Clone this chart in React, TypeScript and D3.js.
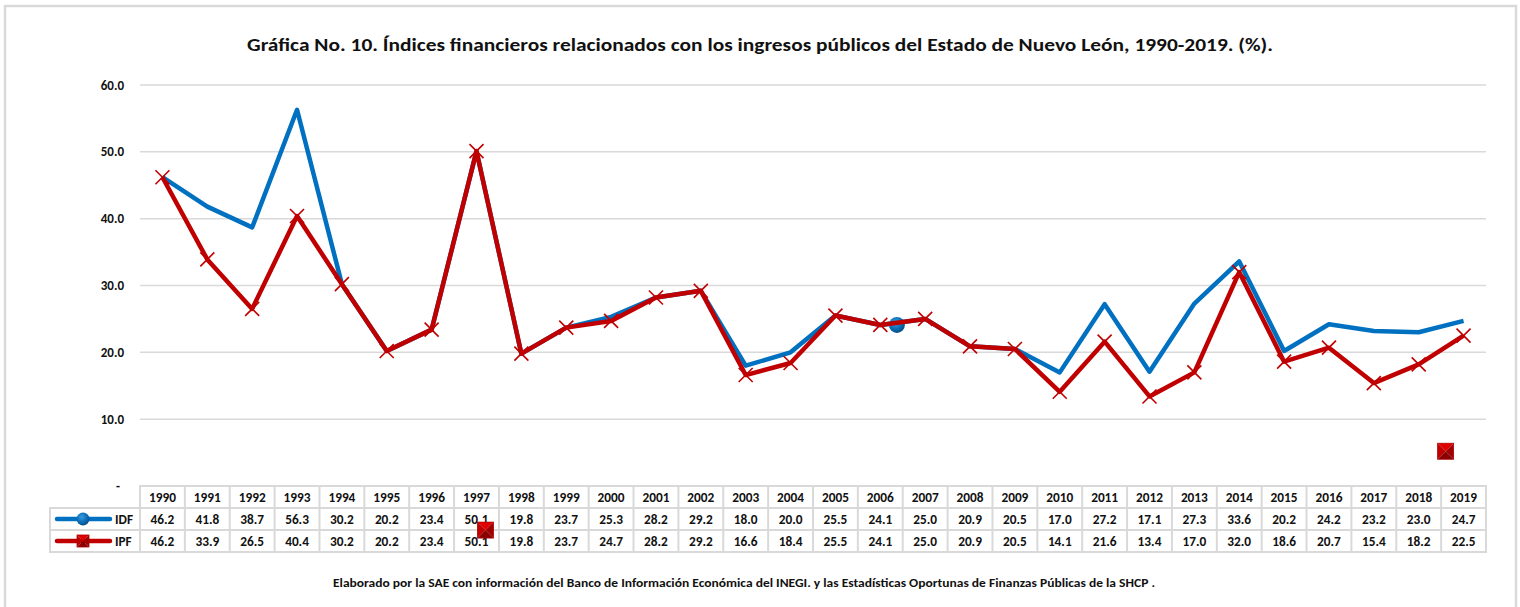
import React from "react";
import * as d3 from "d3";

const years = [1990,1991,1992,1993,1994,1995,1996,1997,1998,1999,2000,2001,2002,2003,2004,2005,2006,2007,2008,2009,2010,2011,2012,2013,2014,2015,2016,2017,2018,2019];
const idf = [46.2,41.8,38.7,56.3,30.2,20.2,23.4,50.1,19.8,23.7,25.3,28.2,29.2,18.0,20.0,25.5,24.1,25.0,20.9,20.5,17.0,27.2,17.1,27.3,33.6,20.2,24.2,23.2,23.0,24.7];
const ipf = [46.2,33.9,26.5,40.4,30.2,20.2,23.4,50.1,19.8,23.7,24.7,28.2,29.2,16.6,18.4,25.5,24.1,25.0,20.9,20.5,14.1,21.6,13.4,17.0,32.0,18.6,20.7,15.4,18.2,22.5];
const yTicks = [0,10,20,30,40,50,60];
// stray single markers visible in the original (position in year units, value)
const idfStrayMarkers = [{ year: 2006.37, value: 24.1 }];
const ipfStrayMarkers = [{ year: 1997.2, value: -6.6 }, { year: 2018.6, value: 5.2 }];

const title = "Gráfica No. 10. Índices financieros relacionados con los ingresos públicos del Estado de Nuevo León, 1990-2019. (%).";
const footer = "Elaborado por la SAE con información del Banco de Información Económica del INEGI. y las Estadísticas Oportunas de Finanzas Públicas de la SHCP .";

const FONT = "Carlito, Calibri, 'Liberation Sans Narrow', 'Arial Narrow', sans-serif";
const BLUE = "#0070C0";
const RED = "#C00000";
const GRID = "#d9d9d9";

export default function App() {
  const W = 1520, H = 607;
  const left = 140, right = 1486;
  const x = d3.scaleBand<number>().domain(years).range([left, right]);
  const bw = x.bandwidth();
  const cx = (yr: number) => (x(yr) as number) + bw / 2;
  const cxf = (yf: number) => left + (yf - years[0] + 0.5) * bw;
  const y = d3.scaleLinear().domain([0, 60]).range([486, 85]);
  const line = d3.line<number>().x((_, i) => cx(years[i])).y(d => y(d));
  const rowH = 22;
  const t0 = 486;
  const fs = 13.3;

  const xMark = (px: number, py: number, k: string) => (
    <g key={k} stroke={RED} strokeWidth={1.6}>
      <line x1={px - 7} y1={py - 7} x2={px + 7} y2={py + 7} />
      <line x1={px - 7} y1={py + 7} x2={px + 7} y2={py - 7} />
    </g>
  );
  const square = (px: number, py: number, k: string, s = 8) => (
    <g key={k}>
      <polygon points={`${px - s},${py - s} ${px + s},${py - s} ${px},${py}`} fill="#e00000" />
      <polygon points={`${px - s},${py - s} ${px - s},${py + s} ${px},${py}`} fill="#c00000" />
      <polygon points={`${px + s},${py - s} ${px + s},${py + s} ${px},${py}`} fill="#a00000" />
      <polygon points={`${px - s},${py + s} ${px + s},${py + s} ${px},${py}`} fill="#8a0000" />
      <rect x={px - s} y={py - s} width={2 * s} height={2 * s} fill="none" stroke="#b00000" strokeWidth={0.8} />
    </g>
  );
  const circle = (px: number, py: number, k: string, r = 8) => (
    <circle key={k} cx={px} cy={py} r={r} fill="url(#blueGrad)" />
  );

  return (
    <svg width={W} height={H} style={{ position: "absolute", left: 0, top: 0 }} fontFamily={FONT}>
      <defs>
        <radialGradient id="blueGrad" cx="40%" cy="35%" r="70%">
          <stop offset="0%" stopColor="#3a9ae0" />
          <stop offset="60%" stopColor="#0a6bb5" />
          <stop offset="100%" stopColor="#044a80" />
        </radialGradient>
      </defs>
      <rect x={0} y={0} width={W} height={H} fill="#fff" />
      <rect x={5} y={6} width={1511} height={610} fill="none" stroke={GRID} strokeWidth={2.5} />
      <text x={760} y={51} textAnchor="middle" fontSize={19} fontWeight="bold" fill="#111"
        textLength={1026} lengthAdjust="spacingAndGlyphs">{title}</text>

      {yTicks.filter(t => t > 0).map(t => (
        <line key={t} x1={left} x2={right} y1={y(t)} y2={y(t)} stroke={GRID} strokeWidth={1.5} />
      ))}
      {yTicks.map(t => (
        <text key={"l" + t} x={t === 0 ? 120 : 124} y={y(t) + 4.5} textAnchor="end" fontSize={13} fontWeight="bold" fill="#111">
          {t === 0 ? "-" : d3.format(".1f")(t)}
        </text>
      ))}

      {/* table */}
      <g stroke={GRID} strokeWidth={2} fill="none">
        <rect x={left} y={t0} width={right - left} height={rowH * 3} />
        <rect x={50} y={t0 + rowH} width={left - 50} height={rowH * 2} />
        <line x1={50} x2={right} y1={t0 + rowH} y2={t0 + rowH} />
        <line x1={50} x2={right} y1={t0 + 2 * rowH} y2={t0 + 2 * rowH} />
        {years.slice(1).map(yr => (
          <line key={yr} x1={x(yr)} x2={x(yr)} y1={t0} y2={t0 + 3 * rowH} />
        ))}
      </g>
      <g fontSize={fs} fontWeight="bold" fill="#111" textAnchor="middle">
        {years.map((yr, i) => (
          <g key={yr}>
            <text x={cx(yr)} y={t0 + 15.5}>{yr}</text>
            <text x={cx(yr)} y={t0 + rowH + 15.5}>{d3.format(".1f")(idf[i])}</text>
            <text x={cx(yr)} y={t0 + 2 * rowH + 15.5}>{d3.format(".1f")(ipf[i])}</text>
          </g>
        ))}
      </g>
      {/* legend keys */}
      <line x1={57} x2={110} y1={t0 + rowH * 1.5} y2={t0 + rowH * 1.5} stroke={BLUE} strokeWidth={4.5} strokeLinecap="round" />
      {circle(83, t0 + rowH * 1.5, "lc", 6.5)}
      <text x={115} y={t0 + rowH + 15.5} fontSize={fs} fontWeight="bold" fill="#111">IDF</text>
      <line x1={57} x2={110} y1={t0 + rowH * 2.5} y2={t0 + rowH * 2.5} stroke={RED} strokeWidth={4.5} strokeLinecap="round" />
      {square(83, t0 + rowH * 2.5, "ls", 6)}
      <text x={115} y={t0 + 2 * rowH + 15.5} fontSize={fs} fontWeight="bold" fill="#111">IPF</text>

      {/* series */}
      <path d={line(idf) as string} fill="none" stroke={BLUE} strokeWidth={4.5} strokeLinejoin="round" />
      {idfStrayMarkers.map((m, i) => circle(cxf(m.year), y(m.value), "ic" + i))}
      <path d={line(ipf) as string} fill="none" stroke={RED} strokeWidth={4.5} strokeLinejoin="round" />
      {ipf.map((v, i) => xMark(cx(years[i]), y(v), "x" + i))}
      {ipfStrayMarkers.map((m, i) => square(cxf(m.year), y(m.value), "sq" + i))}

      <text x={744} y={587} textAnchor="middle" fontSize={12} fontWeight="bold" fill="#111"
        textLength={822} lengthAdjust="spacingAndGlyphs">{footer}</text>
    </svg>
  );
}
